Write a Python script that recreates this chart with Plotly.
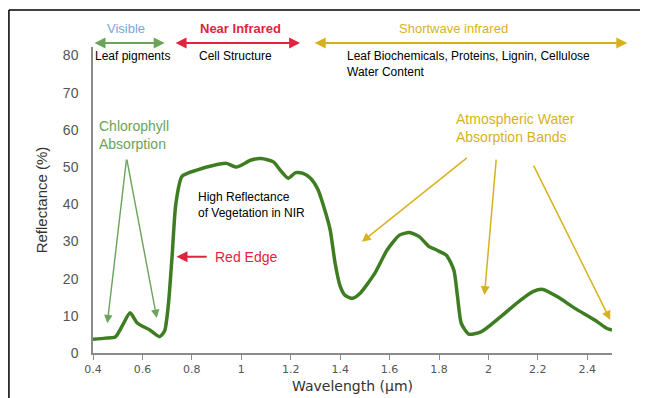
import plotly.graph_objects as go

# Spectral reflectance curve of vegetation
wavelength = [0.40, 0.45, 0.49, 0.52, 0.55, 0.58, 0.63, 0.67, 0.69, 0.705, 0.72, 0.735, 0.76,
              0.82, 0.89, 0.94, 0.98, 1.04, 1.08, 1.13, 1.16, 1.19, 1.22, 1.25, 1.28, 1.31,
              1.34, 1.36, 1.38, 1.40, 1.42, 1.45, 1.48, 1.54, 1.59, 1.64, 1.68, 1.72, 1.76,
              1.79, 1.83, 1.86, 1.875, 1.89, 1.92, 1.97, 2.05, 2.13, 2.18, 2.22, 2.28, 2.35,
              2.43, 2.48, 2.50]
reflectance = [3.7, 4.0, 4.3, 7.5, 10.8, 8.0, 6.2, 4.4, 6.0, 13, 26, 40, 47.5,
               49.2, 50.5, 51, 50, 51.9, 52.3, 51.4, 49, 47, 48.5, 48.3, 47, 44,
               38, 33, 24, 18, 15.5, 14.7, 16, 21.4, 27.7, 31.7, 32.4, 31.3, 28.6,
               27.7, 26.3, 22.3, 15.1, 8, 5.1, 5.7, 9.8, 14.2, 16.5, 17.1, 15.1, 12,
               8.9, 6.6, 6.2]

x_ticks = [0.4, 0.6, 0.8, 1.0, 1.2, 1.4, 1.6, 1.8, 2.0, 2.2, 2.4]
x_tick_labels = ["0.4", "0.6", "0.8", "1", "1.2", "1.4", "1.6", "1.8", "2", "2.2", "2.4"]
y_ticks = [0, 10, 20, 30, 40, 50, 60, 70, 80]

# Spectral regions
regions = ["Visible", "Near Infrared", "Shortwave infrared"]
region_start = [0.40, 0.728, 1.291]
region_end = [0.69, 1.238, 2.562]
region_label_x = [0.534, 0.995, 1.857]
region_desc = ["Leaf pigments", "Cell Structure",
               "Leaf Biochemicals, Proteins, Lignin, Cellulose<br>Water Content"]

GREEN_LINE = "#3f7d22"
GREEN_LIGHT = "#6aa35a"
RED = "#e2233f"
GOLD = "#d8b21e"
BLUE = "#7aa6d6"

fig = go.Figure()
fig.add_trace(go.Scatter(
    x=wavelength, y=reflectance, mode="lines",
    line=dict(color=GREEN_LINE, width=3.5, shape="spline", smoothing=0.6),
    hoverinfo="skip", showlegend=False))

ann = []
region_colors = [BLUE, RED, GOLD]
region_weight = ["normal", "bold", "normal"]
arrow_colors = [GREEN_LIGHT, RED, GOLD]
for i, name in enumerate(regions):
    ann.append(dict(x=region_label_x[i], y=1.059, xref="x", yref="y domain", text=name,
                    showarrow=False, font=dict(family="Liberation Sans", size=13,
                                               color=region_colors[i],
                                               weight=region_weight[i]),
                    xanchor="center", yanchor="middle"))
    ann.append(dict(x=region_end[i], y=1.013, ax=region_start[i], ay=1.013,
                    xref="x", yref="y domain", axref="x", ayref="y domain", text="",
                    showarrow=True, arrowhead=2, startarrowhead=2, arrowside="end+start",
                    arrowsize=1.1, startarrowsize=1.1, arrowwidth=2,
                    arrowcolor=arrow_colors[i]))

# descriptions under the region arrows
ann.append(dict(x=0.40, y=79.8, xref="x", yref="y", text=region_desc[0], showarrow=False,
                xanchor="left", yanchor="middle",
                font=dict(family="Liberation Sans", size=12, color="#000")))
ann.append(dict(x=0.975, y=79.8, xref="x", yref="y", text=region_desc[1], showarrow=False,
                xanchor="center", yanchor="middle",
                font=dict(family="Liberation Sans", size=12, color="#000")))
ann.append(dict(x=1.42, y=77.6, xref="x", yref="y", text=region_desc[2], showarrow=False,
                xanchor="left", yanchor="middle", align="left",
                font=dict(family="Liberation Sans", size=12, color="#000")))

# Chlorophyll absorption
ann.append(dict(x=0.416, y=58.5, xref="x", yref="y", text="Chlorophyll<br>Absorption",
                showarrow=False, xanchor="left", yanchor="middle", align="left",
                font=dict(family="Liberation Sans", size=14, color=GREEN_LIGHT)))
for tx, ty in [(0.458, 8.0), (0.658, 9.4)]:
    ann.append(dict(x=tx, y=ty, ax=0.536, ay=52.4, xref="x", yref="y", axref="x", ayref="y",
                    text="", showarrow=True, arrowhead=2, arrowsize=1.2, arrowwidth=1.4,
                    arrowcolor=GREEN_LIGHT))

# NIR text
ann.append(dict(x=0.817, y=39.8, xref="x", yref="y",
                text="High Reflectance<br>of Vegetation in NIR",
                showarrow=False, xanchor="left", yanchor="middle", align="left",
                font=dict(family="Liberation Sans", size=12, color="#000")))

# Red edge
ann.append(dict(x=0.738, y=25.9, ax=0.866, ay=25.9, xref="x", yref="y", axref="x", ayref="y",
                text="", showarrow=True, arrowhead=2, arrowsize=1.1, arrowwidth=2,
                arrowcolor=RED))
ann.append(dict(x=0.885, y=25.9, xref="x", yref="y", text="Red Edge", showarrow=False,
                xanchor="left", yanchor="middle",
                font=dict(family="Liberation Sans", size=14, color=RED)))

# Atmospheric water absorption bands
ann.append(dict(x=1.86, y=60.5, xref="x", yref="y",
                text="Atmospheric Water<br>Absorption Bands",
                showarrow=False, xanchor="left", yanchor="middle", align="left",
                font=dict(family="Liberation Sans", size=14, color=GOLD)))
for (sx, sy, tx, ty) in [(1.919, 52.8, 1.488, 29.9), (2.032, 52.4, 1.984, 15.6),
                         (2.18, 50.8, 2.493, 8.9)]:
    ann.append(dict(x=tx, y=ty, ax=sx, ay=sy, xref="x", yref="y", axref="x", ayref="y",
                    text="", showarrow=True, arrowhead=2, arrowsize=1.2, arrowwidth=1.5,
                    arrowcolor=GOLD))

fig.update_layout(
    width=640, height=390,
    margin=dict(l=85, r=36, t=39, b=45, autoexpand=False),
    paper_bgcolor="white", plot_bgcolor="white",
    annotations=ann,
    shapes=[
        dict(type="line", xref="paper", yref="paper", x0=-0.162, x1=-0.162, y0=-0.2, y1=1.121,
             line=dict(color="black", width=1.5)),
        dict(type="line", xref="paper", yref="paper", x0=-0.162, x1=1.069, y0=1.121, y1=1.121,
             line=dict(color="black", width=1.5)),
    ],
    xaxis=dict(range=[0.4, 2.5], tickmode="array", tickvals=x_ticks, ticktext=x_tick_labels,
               automargin=False,
               showgrid=False, zeroline=False, showline=True, linecolor="#8a8a8a", linewidth=1.5,
               ticks="outside", ticklen=5, tickcolor="#8a8a8a", tickwidth=1,
               tickfont=dict(family="DejaVu Sans", size=11, color="#555"),
               title=dict(text="Wavelength (µm)", standoff=6,
                          font=dict(family="DejaVu Sans", size=14, color="#333"))),
    yaxis=dict(range=[0, 82.3], tickmode="array", tickvals=y_ticks,
               automargin=False,
               showgrid=False, zeroline=False, showline=True, linecolor="#8a8a8a", linewidth=1.5,
               ticks="", ticklabelstandoff=10,
               tickfont=dict(family="Liberation Sans", size=14, color="#555"),
               title=dict(text="Reflectance (%)", standoff=12,
                          font=dict(family="Liberation Sans", size=15, color="#333"))),
)

fig.write_html("out.html", config={"displayModeBar": False},
               post_script="document.body.style.overflow='hidden';")
